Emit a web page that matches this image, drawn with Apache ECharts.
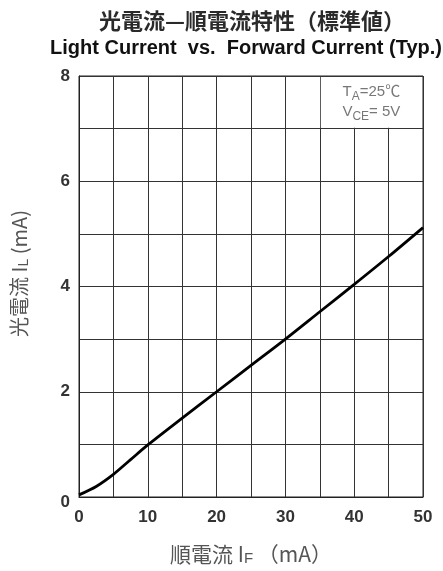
<!DOCTYPE html>
<html><head><meta charset="utf-8">
<script src="https://cdn.jsdelivr.net/npm/echarts@6/dist/echarts.min.js"></script>
<style>html,body{margin:0;padding:0;background:#fff}#c{width:443px;height:571px}</style>
</head><body><div id="c"></div>
<script>
// ---- data ----
const forwardCurrent = [0, 2.5, 5, 7.5, 10, 15, 20, 25, 30, 35, 40, 45, 50];   // I_F (mA)
const lightCurrent   = [0.04, 0.2, 0.43, 0.71, 0.99, 1.5, 2.0, 2.5, 3.0, 3.52, 4.04, 4.57, 5.12]; // I_L (mA)
const xTickLabels = [0, 10, 20, 30, 40, 50];
const yTickLabels = [0, 2, 4, 6, 8];
const titleJa = '光電流—順電流特性（標準値）';
const titleEn = 'Light Current  vs.  Forward Current (Typ.)';
const condTA = ['T', 'A', '=25℃'];
const condVCE = ['V', 'CE', '= 5V'];
const condAnchor = [42.5, 7.5];
const coverBox = [35, 7, 50, 8];

const LAT = '"Liberation Sans", Arial, "Noto Sans CJK JP", sans-serif';
const CJK = '"Noto Sans CJK JP", "Liberation Sans", sans-serif';

const chart = echarts.init(document.getElementById('c'), null, {renderer: 'canvas'});
chart.setOption({
  backgroundColor: '#fff',
  animation: false,
  grid: {left: 79, right: 20, top: 76, bottom: 71, show: true, borderColor: '#222', borderWidth: 1, containLabel: false},
  graphic: [
    {type: 'text', x: 252, y: 21, style: {text: titleJa, font: 'bold 22px ' + CJK, fill: '#2a2a2a', align: 'center', verticalAlign: 'middle'}},
    {type: 'text', x: 246, y: 48, style: {text: titleEn, font: 'bold 20px ' + LAT, fill: '#111', align: 'center', verticalAlign: 'middle'}}
  ],
  xAxis: {
    type: 'value', min: 0, max: 50, interval: 5,
    axisLine: {show: true, lineStyle: {color: '#222', width: 1}},
    axisTick: {show: false},
    splitLine: {show: true, lineStyle: {color: '#333', width: 1}},
    axisLabel: {
      margin: 12, fontSize: 17, fontWeight: 'bold', fontFamily: LAT, color: '#333',
      formatter: v => xTickLabels.indexOf(v) >= 0 ? String(v) : ''
    },
    name: '{t|順電流 I}{s|F}{t| （mA）}',
    nameLocation: 'middle', nameGap: 45,
    nameTextStyle: {
      rich: {
        t: {fontSize: 21, fontFamily: CJK, color: '#555', lineHeight: 24},
        s: {fontSize: 15, fontFamily: LAT, color: '#555', lineHeight: 14, verticalAlign: 'bottom'}
      }
    }
  },
  yAxis: {
    type: 'value', min: 0, max: 8, interval: 1,
    axisLine: {show: true, lineStyle: {color: '#222', width: 1}},
    axisTick: {show: false},
    splitLine: {show: true, lineStyle: {color: '#333', width: 1}},
    axisLabel: {
      margin: 9, fontSize: 17, fontWeight: 'bold', fontFamily: LAT, color: '#333',
      formatter: v => v === 0 ? '{z|0}' : (yTickLabels.indexOf(v) >= 0 ? String(v) : ''),
      rich: {z: {fontSize: 17, fontWeight: 'bold', fontFamily: LAT, color: '#333', padding: [10, 0, 0, 0]}}
    },
    name: '{t|光電流 I}{s|L}{t| (mA)}',
    nameLocation: 'middle', nameGap: 48,
    nameTextStyle: {
      padding: [0, 0, 0, 26],
      rich: {
        t: {fontSize: 20, fontFamily: CJK, color: '#555', lineHeight: 24},
        s: {fontSize: 14, fontFamily: LAT, color: '#555', lineHeight: 14, verticalAlign: 'bottom'}
      }
    }
  },
  series: [
    {
      type: 'custom', z: 3, silent: true,
      data: [coverBox],
      renderItem: (params, api) => {
        const p0 = api.coord([api.value(0), api.value(3)]);
        const p1 = api.coord([api.value(2), api.value(1)]);
        return {type: 'rect', shape: {x: p0[0] + 1, y: p0[1] + 1, width: p1[0] - p0[0] - 2, height: p1[1] - p0[1] - 2}, style: {fill: '#fff'}};
      }
    },
    {
      type: 'line', z: 5, smooth: 0.3, symbol: 'none',
      data: forwardCurrent.map((x, i) => [x, lightCurrent[i]]),
      lineStyle: {color: '#000', width: 2.8}
    },
    {
      type: 'scatter', z: 6, silent: true, symbolSize: 0,
      data: [condAnchor],
      label: {
        show: true, position: 'inside',
        formatter: '{m|' + condTA[0] + '}{s|' + condTA[1] + '}{m|' + condTA[2] + '}\n{m|' + condVCE[0] + '}{s|' + condVCE[1] + '}{m|' + condVCE[2] + '}',
        rich: {
          m: {fontSize: 15, fontFamily: LAT, color: '#555', lineHeight: 20},
          s: {fontSize: 12, fontFamily: LAT, color: '#555', lineHeight: 12, verticalAlign: 'bottom'}
        }
      }
    }
  ]
});
</script></body></html>
